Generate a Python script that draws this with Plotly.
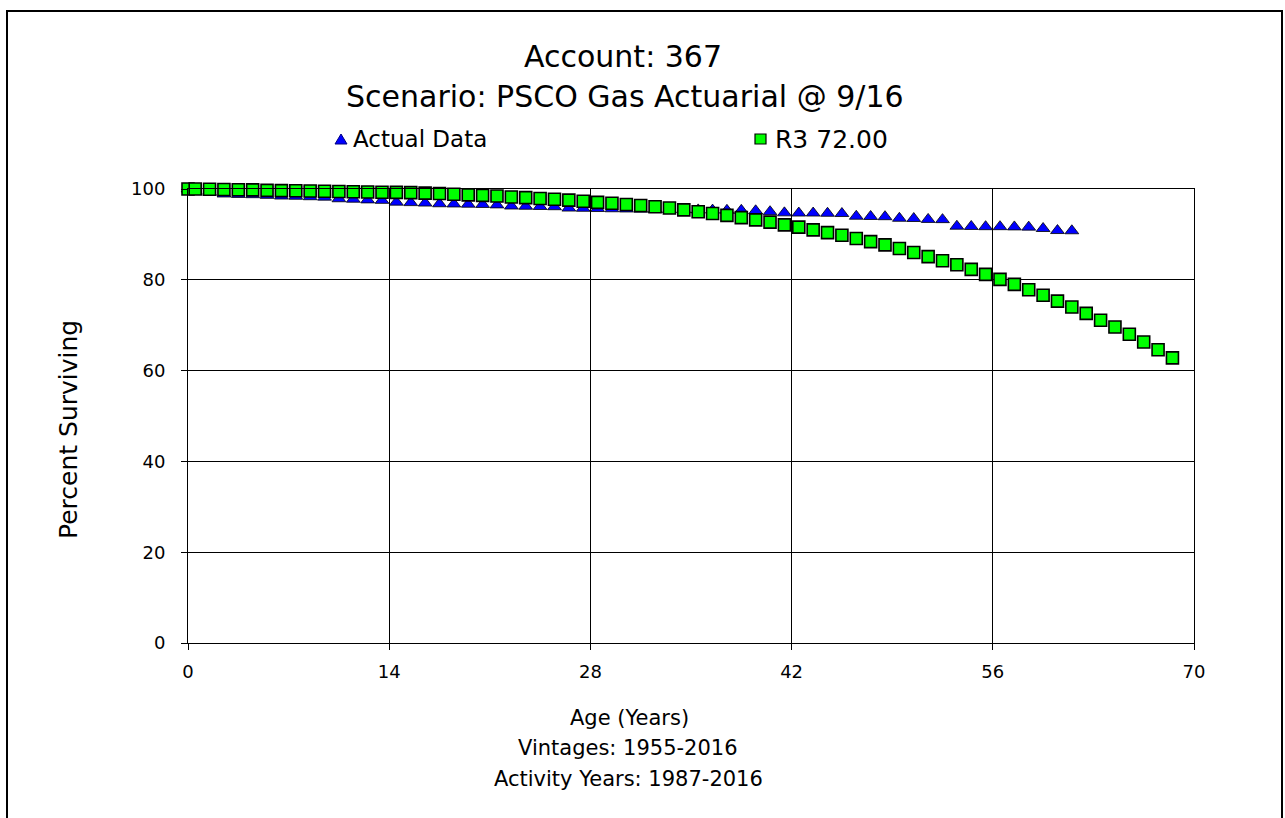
import plotly.graph_objects as go

# ---------------- data ----------------
age_actual = [0, 0.5, 1.5, 2.5, 3.5, 4.5, 5.5, 6.5, 7.5, 8.5, 9.5, 10.5, 11.5, 12.5, 13.5,
              14.5, 15.5, 16.5, 17.5, 18.5, 19.5, 20.5, 21.5, 22.5, 23.5, 24.5, 25.5, 26.5,
              27.5, 28.5, 29.5, 30.5, 31.5, 32.5, 33.5, 34.5, 35.5, 36.5, 37.5, 38.5, 39.5,
              40.5, 41.5, 42.5, 43.5, 44.5, 45.5, 46.5, 47.5, 48.5, 49.5, 50.5, 51.5, 52.5,
              53.5, 54.5, 55.5, 56.5, 57.5, 58.5, 59.5, 60.5, 61.5]
pct_actual = [100.0, 99.7, 99.3, 98.9, 98.8, 98.75, 98.6, 98.45, 98.4, 98.3, 98.2, 97.85,
              97.75, 97.6, 97.5, 97.1, 97.0, 96.9, 96.75, 96.7, 96.65, 96.6, 96.5, 96.25,
              96.2, 96.15, 96.1, 95.8, 95.75, 95.7, 95.65, 95.6, 95.55, 95.5, 95.5, 95.45,
              95.4, 95.35, 95.3, 95.3, 95.2, 95.0, 94.75, 94.7, 94.7, 94.65, 94.6, 94.0,
              93.95, 93.9, 93.55, 93.5, 93.3, 93.25, 91.8, 91.75, 91.7, 91.7, 91.65, 91.6,
              91.3, 90.85, 90.8]

age_r3 = [0, 0.5, 1.5, 2.5, 3.5, 4.5, 5.5, 6.5, 7.5, 8.5, 9.5, 10.5, 11.5, 12.5, 13.5,
          14.5, 15.5, 16.5, 17.5, 18.5, 19.5, 20.5, 21.5, 22.5, 23.5, 24.5, 25.5, 26.5,
          27.5, 28.5, 29.5, 30.5, 31.5, 32.5, 33.5, 34.5, 35.5, 36.5, 37.5, 38.5, 39.5,
          40.5, 41.5, 42.5, 43.5, 44.5, 45.5, 46.5, 47.5, 48.5, 49.5, 50.5, 51.5, 52.5,
          53.5, 54.5, 55.5, 56.5, 57.5, 58.5, 59.5, 60.5, 61.5, 62.5, 63.5, 64.5, 65.5,
          66.5, 67.5, 68.5]
pct_r3 = [100.0, 100.0, 99.95, 99.9, 99.85, 99.8, 99.7, 99.65, 99.6, 99.55, 99.5, 99.45,
          99.4, 99.35, 99.3, 99.25, 99.2, 99.1, 99.0, 98.85, 98.7, 98.6, 98.45, 98.25,
          98.1, 97.9, 97.75, 97.55, 97.3, 97.05, 96.85, 96.6, 96.35, 96.1, 95.8, 95.4,
          95.0, 94.6, 94.2, 93.7, 93.2, 92.7, 92.1, 91.6, 91.0, 90.4, 89.8, 89.1, 88.4,
          87.7, 86.9, 86.0, 85.1, 84.2, 83.3, 82.3, 81.2, 80.1, 79.0, 77.8, 76.6, 75.3,
          74.0, 72.6, 71.1, 69.6, 68.0, 66.3, 64.6, 62.8]

x_ticks = [0, 14, 28, 42, 56, 70]
y_ticks = [0, 20, 40, 60, 80, 100]

title_lines = ["Account: 367", "Scenario: PSCO Gas Actuarial @ 9/16"]
x_title_lines = ["Age (Years)", "Vintages: 1955-2016", "Activity Years: 1987-2016"]
y_title = "Percent Surviving"
series_names = ["Actual Data", "R3 72.00"]

# ---------------- layout geometry ----------------
W, H = 1285, 818
ML, MR, MT, MB = 188, 91, 189, 175
PW = W - ML - MR
PH = H - MT - MB
FONT = "DejaVu Sans"


def px(x):
    return (x - ML) / PW


def py(y):
    return (H - MB - y) / PH


fig = go.Figure()

fig.add_trace(go.Scatter(
    x=age_actual, y=pct_actual, mode="markers", name=series_names[0],
    marker=dict(symbol="triangle-up", size=12, color="#0000FF",
                line=dict(color="#000000", width=0.8)),
    cliponaxis=False, showlegend=False))

fig.add_trace(go.Scatter(
    x=age_r3, y=pct_r3, mode="markers", name=series_names[1],
    marker=dict(symbol="square", size=12, color="#00FF00",
                line=dict(color="#000000", width=1.6)),
    cliponaxis=False, showlegend=False))

axis_common = dict(
    showgrid=True, gridcolor="#000000", gridwidth=1,
    showline=True, linecolor="#000000", linewidth=1, mirror=True,
    ticks="outside", ticklen=6, tickcolor="#000000", tickwidth=1,
    zeroline=False, tickfont=dict(family=FONT, size=18, color="#000000"),
)

fig.update_xaxes(range=[0, 70], tickvals=x_ticks, ticklabelstandoff=6, **axis_common)
fig.update_yaxes(range=[0, 100], tickvals=y_ticks, ticklabelstandoff=12, **axis_common)

annotations = []
annotations.append(dict(x=px(623), y=py(57), text=title_lines[0], font=dict(size=30)))
annotations.append(dict(x=px(625), y=py(97), text=title_lines[1], font=dict(size=30)))
annotations.append(dict(x=px(629), y=py(718), text=x_title_lines[0], font=dict(size=21)))
annotations.append(dict(x=px(628), y=py(748), text=x_title_lines[1], font=dict(size=21)))
annotations.append(dict(x=px(628), y=py(779), text=x_title_lines[2], font=dict(size=21)))
annotations.append(dict(x=px(68), y=py(430), text=y_title, textangle=-90, font=dict(size=25)))
annotations.append(dict(x=px(351), y=py(139), text=series_names[0], xanchor="left",
                        font=dict(size=23)))
annotations.append(dict(x=px(773), y=py(139), text=series_names[1], xanchor="left",
                        font=dict(size=25)))

for a in annotations:
    a.setdefault("xanchor", "center")
    a["yanchor"] = "middle"
    a["xref"] = "paper"
    a["yref"] = "paper"
    a["showarrow"] = False
    a["font"] = dict(family=FONT, color="#000000", size=a["font"]["size"])

shapes = [
    # outer frame
    dict(type="rect", xref="paper", yref="paper",
         x0=px(7), x1=px(1282), y0=py(830), y1=py(11),
         line=dict(color="#000000", width=2), fillcolor="rgba(0,0,0,0)"),
    # legend triangle
    dict(type="path", xref="paper", yref="paper",
         path="M {} {} L {} {} L {} {} Z".format(px(335), py(144), px(347), py(144),
                                                 px(341), py(134)),
         fillcolor="#0000FF", line=dict(color="#000080", width=1)),
    # legend square
    dict(type="rect", xref="paper", yref="paper",
         x0=px(755), x1=px(766), y0=py(144), y1=py(134),
         fillcolor="#00FF00", line=dict(color="#000000", width=1.2)),
]

fig.update_layout(
    width=W, height=H,
    margin=dict(l=ML, r=MR, t=MT, b=MB, pad=0),
    paper_bgcolor="#FFFFFF", plot_bgcolor="#FFFFFF",
    font=dict(family=FONT, color="#000000"),
    annotations=annotations,
    shapes=shapes,
    showlegend=False,
)

fig.write_html("out.html", config={"displayModeBar": False})
